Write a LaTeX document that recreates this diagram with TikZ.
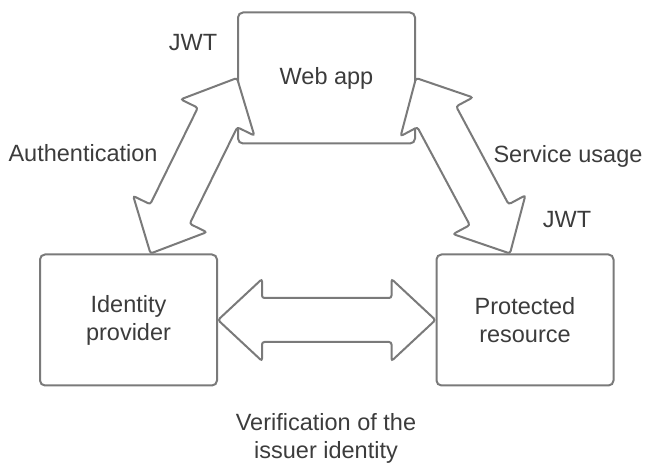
\documentclass[tikz,border=0pt]{standalone}
\usepackage{fontspec}
\setmainfont{Liberation Sans}
\usetikzlibrary{calc}

\definecolor{edge}{HTML}{7A7A7A}
\definecolor{ink}{HTML}{3C3C3C}

\tikzset{
  pics/fatarrow/.style={code={
    \draw[arr] (0pt,0pt) -- (44pt,41pt) -- (44pt,22pt) -- (#1-44pt,22pt) -- (#1-44pt,41pt)
      -- (#1,0pt) -- (#1-44pt,-41pt) -- (#1-44pt,-22pt) -- (44pt,-22pt) -- (44pt,-41pt) -- cycle;
  }}
}

\begin{document}
\begin{tikzpicture}[
  x=1pt, y=-1pt,
  font=\fontsize{23.5pt}{28pt}\selectfont,
  box/.style={draw=edge, line width=2pt, rounded corners=5pt, minimum width=177pt,
              minimum height=131pt, align=center, text=ink, fill=white},
  lbl/.style={text=ink, align=center, inner sep=0pt},
  arr/.style={draw=edge, line width=2pt, rounded corners=2.5pt, fill=white}
]
\useasboundingbox (0,0) rectangle (646,465);

\node[box] (web) at (326.5, 78) {Web app};
\node[box] (idp) at (128.5,320) {Identity\\provider};
\node[box] (res) at (525,  320) {Protected\\resource};

\node[lbl] (jwta)  at (193, 43)  {JWT};
\node[lbl] (auth)  at (83, 153)  {Authentication};
\node[lbl] (usage) at (568,156)  {Service usage};
\node[lbl] (jwtb)  at (567,220)  {JWT};
\node[lbl] (verif) at (326,438)  {Verification of the\\issuer identity};

% big double arrows between the boxes
\coordinate (a1) at ([xshift=22pt]idp.north);
\coordinate (b1) at ([xshift=-15pt]res.north);
\path let \p1=($(web.west)-(a1)$), \n1={veclen(\x1,\y1)}, \n2={atan2(\y1,\x1)} in
  (a1) pic[rotate=\n2] {fatarrow=\n1};
\path let \p1=($(b1)-(web.east)$), \n1={veclen(\x1,\y1)}, \n2={atan2(\y1,\x1)} in
  (web.east) pic[rotate=\n2] {fatarrow=\n1};
\path let \p1=($(res.west)-(idp.east)$), \n1={veclen(\x1,\y1)}, \n2={atan2(\y1,\x1)} in
  (idp.east) pic[rotate=\n2] {fatarrow=\n1};
\end{tikzpicture}
\end{document}
